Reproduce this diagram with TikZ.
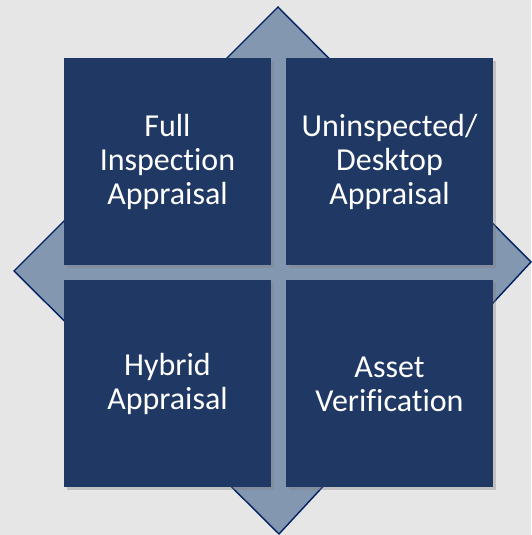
\documentclass[tikz,border=0pt]{standalone}
\usepackage{fontspec}
\setmainfont{Carlito}[Ligatures={NoCommon}]
\usetikzlibrary{shadows}
\definecolor{bgc}{HTML}{E7E6E6}
\definecolor{diafill}{HTML}{8497B0}
\definecolor{diaedge}{HTML}{002060}
\definecolor{boxc}{HTML}{203864}
\tikzset{
  quad/.style={fill=boxc, minimum width=207pt, minimum height=207pt, inner sep=0pt,
    text width=200pt, align=center, text=white,
    font=\fontsize{32}{34}\selectfont,
    drop shadow={shadow xshift=3pt, shadow yshift=-3pt, opacity=0.35}},
  dia/.style={fill=diafill, draw=diaedge, line width=1.4pt, line join=miter}
}
\begin{document}
\begin{tikzpicture}[x=1pt,y=1pt]
\fill[bgc] (0,0) rectangle (531,535);
\useasboundingbox (0,0) rectangle (531,535);
\coordinate (dT) at (278,528);
\coordinate (dR) at (531,273);
\coordinate (dB) at (279,1);
\coordinate (dL) at (14,264);
\draw[dia] (dT) -- (dR) -- (dB) -- (dL) -- cycle;
\node[quad] (tl) at (167.5,373.5) {Full\\Inspection\\Appraisal};
\node[quad] (tr) at (389.5,373.5) {Uninspected/\\Desktop\\Appraisal};
\node[quad] (bl) at (167.5,151) {Hybrid\\Appraisal};
\node[quad] (br) at (389.5,151) {Asset\\Verification};
\end{tikzpicture}
\end{document}
